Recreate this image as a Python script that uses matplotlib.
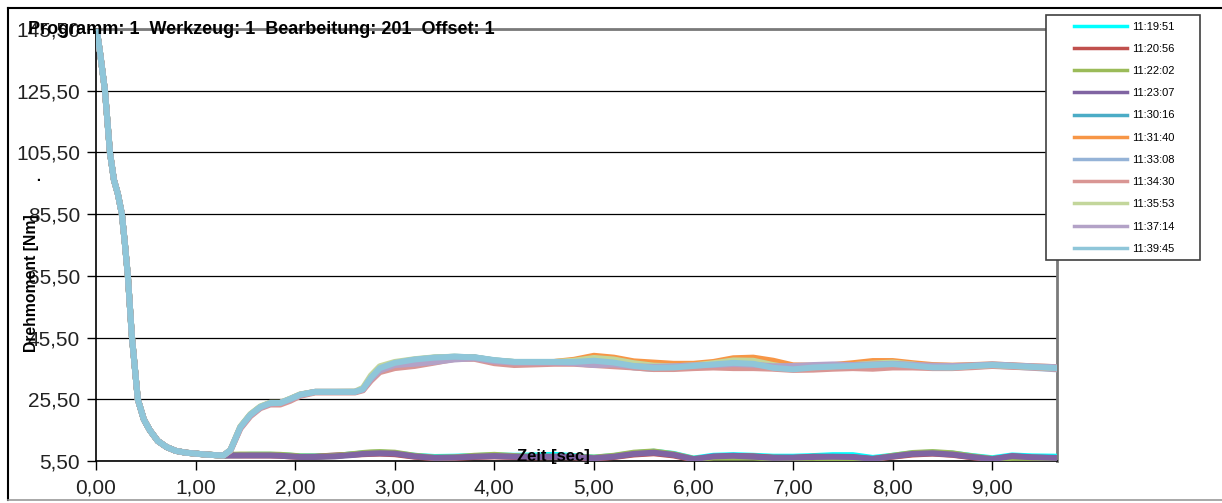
import matplotlib
matplotlib.use("Agg")
import matplotlib.pyplot as plt
from matplotlib.patches import Rectangle
from matplotlib.lines import Line2D

plt.rcParams['font.family'] = ['Liberation Sans', 'DejaVu Sans']

# gemeinsamer Anfang (alle Kurven identisch)
t_head = [0.00, 0.04, 0.09, 0.14, 0.18, 0.22, 0.26, 0.29, 0.32, 0.36, 0.42, 0.48,
          0.54, 0.62, 0.71, 0.80, 0.90, 1.00, 1.10, 1.20]
v_head = [147.0, 138.0, 125.5, 105.5, 96.6, 92.0, 85.5, 76.0, 65.5, 46.0, 25.5, 19.0,
          15.5, 12.0, 10.0, 8.8, 8.2, 7.9, 7.6, 7.4]

t_tail = [1.28, 1.35, 1.45, 1.55, 1.65, 1.75, 1.85, 1.95, 2.05,
          2.20, 2.40, 2.60, 2.68, 2.76, 2.85,
          3.00, 3.20, 3.40, 3.60, 3.80,
          4.00, 4.20, 4.40, 4.60, 4.80,
          5.00, 5.20, 5.40, 5.60, 5.80,
          6.00, 6.20, 6.40, 6.60, 6.80,
          7.00, 7.20, 7.40, 7.60, 7.80,
          8.00, 8.20, 8.40, 8.60, 8.80,
          9.00, 9.20, 9.40, 9.65]

labels = ['11:19:51', '11:20:56', '11:22:02', '11:23:07', '11:30:16', '11:31:40',
          '11:33:08', '11:34:30', '11:35:53', '11:37:14', '11:39:45']
colors = ['#00FFFF', '#C0504D', '#9BBB59', '#8064A2', '#4BACC6', '#F79646',
          '#95B3D7', '#D99694', '#C3D69B', '#B3A2C7', '#8FC6D9']

# untere Gruppe
tail_1951 = [7.3, 7.4, 7.4, 7.5, 7.5, 7.5, 7.4, 7.2, 7.0,
             7.0, 7.2, 7.7, 8.0, 8.1, 8.2,
             8.0, 7.2, 6.8, 6.9, 7.1,
             7.3, 7.2, 7.3, 7.5, 7.1,
             6.6, 7.1, 8.0, 8.5, 7.8,
             6.3, 7.2, 7.4, 7.2, 6.9,
             6.9, 7.1, 7.4, 7.4, 6.5,
             7.2, 8.0, 8.2, 7.9, 7.1,
             6.4, 7.3, 7.0, 6.9]
tail_2056 = [7.3, 7.3, 7.3, 7.3, 7.3, 7.3, 7.2, 7.0, 6.8,
             6.9, 7.3, 7.6, 7.7, 7.8, 7.9,
             7.7, 6.9, 6.4, 6.5, 6.8,
             7.0, 6.8, 6.7, 6.8, 6.7,
             6.3, 6.8, 7.6, 8.0, 7.3,
             6.0, 6.8, 7.1, 7.0, 6.6,
             6.5, 6.9, 6.8, 6.7, 6.1,
             6.9, 7.6, 7.9, 7.5, 6.7,
             6.0, 7.0, 6.6, 6.4]
tail_2202 = [7.3, 7.5, 7.6, 7.6, 7.6, 7.6, 7.5, 7.3, 7.0,
             6.9, 7.1, 7.8, 8.1, 8.3, 8.4,
             8.2, 7.2, 6.6, 6.7, 7.2,
             7.5, 7.1, 6.9, 6.9, 6.9,
             6.6, 7.2, 8.2, 8.6, 7.7,
             6.2, 6.6, 6.6, 6.6, 6.3,
             6.4, 6.5, 6.3, 6.4, 6.1,
             7.2, 8.1, 8.4, 8.0, 7.0,
             6.2, 6.5, 6.5, 6.4]
tail_2307 = [7.3, 7.3, 7.3, 7.3, 7.3, 7.3, 7.2, 7.0, 6.8,
             6.8, 7.0, 7.5, 7.8, 7.9, 8.0,
             7.9, 7.0, 6.5, 6.6, 6.9,
             7.1, 6.9, 6.8, 6.9, 6.8,
             6.4, 6.9, 7.8, 8.2, 7.5,
             6.1, 7.0, 7.2, 6.9, 6.5,
             6.6, 6.8, 6.9, 6.8, 6.2,
             7.0, 7.8, 8.0, 7.6, 6.8,
             6.1, 7.1, 6.7, 6.5]

# obere Gruppe
tail_3016 = [7.3, 9.0, 16.5, 20.5, 23.0, 24.3, 24.3, 25.6, 27.0,
             27.9, 27.9, 27.9, 28.8, 32.4, 35.5,
             37.2, 38.3, 39.0, 39.3, 39.1,
             38.1, 37.6, 37.6, 37.6, 37.7,
             38.2, 37.6, 36.5, 35.9, 35.9,
             36.3, 36.9, 37.4, 37.1, 35.9,
             35.4, 35.9, 36.3, 36.7, 37.2,
             37.1, 36.5, 35.9, 35.9, 36.4,
             36.7, 36.4, 36.0, 35.7]
tail_3140 = [7.3, 9.0, 16.5, 20.5, 23.0, 24.3, 24.3, 25.6, 27.0,
             27.9, 27.9, 27.9, 28.6, 32.0, 35.0,
             36.8, 38.0, 38.8, 39.2, 39.0,
             38.0, 37.5, 37.5, 37.6, 38.3,
             39.6, 39.0, 37.8, 37.4, 37.0,
             37.0, 37.6, 38.8, 39.0, 38.0,
             36.5, 36.4, 36.6, 37.2, 37.9,
             37.9, 37.2, 36.6, 36.4, 36.6,
             36.8, 36.5, 36.2, 35.9]
tail_3308 = [7.3, 9.0, 16.4, 20.4, 22.9, 24.2, 24.2, 25.5, 26.9,
             27.9, 27.9, 27.9, 28.7, 32.2, 35.2,
             36.9, 38.0, 38.7, 39.1, 39.0,
             38.0, 37.4, 37.4, 37.4, 37.4,
             37.4, 36.9, 35.8, 35.3, 35.5,
             36.0, 36.5, 37.0, 36.8, 35.6,
             35.3, 35.8, 36.1, 36.3, 36.5,
             36.7, 36.3, 35.8, 35.7, 36.1,
             36.4, 36.1, 35.7, 35.2]
tail_3430 = [7.3, 8.8, 16.0, 20.0, 22.6, 23.8, 23.8, 25.0, 26.6,
             27.7, 27.7, 27.7, 28.4, 31.5, 34.3,
             35.6, 36.3, 37.4, 38.6, 38.6,
             37.2, 36.6, 36.8, 37.0, 37.0,
             36.6, 36.2, 35.8, 35.3, 35.3,
             35.6, 35.8, 35.6, 35.6, 35.4,
             35.0, 35.1, 35.4, 35.6, 35.4,
             35.8, 35.8, 35.6, 35.6, 35.9,
             36.3, 36.0, 35.8, 35.4]
tail_3553 = [7.3, 9.1, 16.7, 20.7, 23.2, 24.4, 24.4, 25.7, 27.1,
             27.9, 27.9, 28.0, 29.2, 33.2, 36.2,
             37.6, 38.5, 39.1, 39.3, 39.0,
             38.1, 37.6, 37.6, 37.6, 38.0,
             38.9, 38.4, 37.2, 36.4, 36.2,
             36.5, 37.2, 38.1, 38.0, 36.6,
             35.6, 35.9, 36.2, 36.6, 37.1,
             37.4, 36.8, 36.0, 35.9, 36.3,
             36.6, 36.3, 36.0, 35.7]
tail_3714 = [7.3, 9.0, 16.3, 20.3, 22.8, 24.1, 24.3, 25.4, 26.9,
             27.9, 27.9, 27.9, 28.6, 32.0, 34.8,
             36.6, 37.0, 37.6, 38.4, 38.8,
             37.8, 37.4, 37.4, 37.4, 37.2,
             36.6, 36.8, 36.2, 36.0, 36.2,
             36.5, 36.6, 36.9, 36.7, 36.2,
             36.3, 36.6, 36.8, 36.6, 36.8,
             37.0, 36.7, 36.4, 36.3, 36.5,
             36.8, 36.5, 36.2, 35.9]
tail_3945 = [7.3, 9.0, 16.5, 20.5, 23.0, 24.3, 24.3, 25.6, 27.0,
             27.9, 27.9, 27.9, 28.8, 32.5, 35.6,
             37.3, 38.4, 39.0, 39.3, 39.1,
             38.2, 37.6, 37.6, 37.6, 37.6,
             38.0, 37.4, 36.3, 35.7, 35.8,
             36.3, 36.8, 37.3, 37.0, 35.7,
             35.2, 35.8, 36.1, 36.3, 36.6,
             36.9, 36.4, 35.8, 35.8, 36.3,
             36.6, 36.3, 36.0, 35.6]

tails = [tail_1951, tail_2056, tail_2202, tail_2307, tail_3016, tail_3140,
         tail_3308, tail_3430, tail_3553, tail_3714, tail_3945]

y_ticks = [5.5, 25.5, 45.5, 65.5, 85.5, 105.5, 125.5, 145.5]
x_ticks = [0, 1, 2, 3, 4, 5, 6, 7, 8, 9]

W, H = 1222, 503
fig = plt.figure(figsize=(W / 100, H / 100), dpi=100)
ax = fig.add_axes([96 / W, 1 - 461 / H, (1057 - 96) / W, (461 - 29) / H])

t_all = t_head + t_tail
for i, (lab, col, tail) in enumerate(zip(labels, colors, tails)):
    ax.plot(t_all, v_head + tail, color=col, lw=4.3, solid_joinstyle='round',
            solid_capstyle='round', zorder=3 + i * 0.01)

ax.set_xlim(0, 9.65)
ax.set_ylim(5.5, 145.5)
ax.set_yticks(y_ticks)
ax.set_yticklabels([('%.2f' % v).replace('.', ',') for v in y_ticks])
ax.set_xticks(x_ticks)
ax.set_xticklabels([('%.2f' % v).replace('.', ',') for v in x_ticks])
ax.tick_params(axis='both', labelsize=15, length=6.5, width=1, direction='out',
               colors='black', labelcolor='#222222')
ax.tick_params(axis='y', pad=5)
ax.tick_params(axis='x', pad=6)
ax.yaxis.grid(True, color='black', lw=0.9, zorder=1)
ax.set_axisbelow(True)
for s in ['left', 'bottom']:
    ax.spines[s].set_color('black')
    ax.spines[s].set_linewidth(1.2)
for s in ['top', 'right']:
    ax.spines[s].set_color('#7a7a7a')
    ax.spines[s].set_linewidth(2)

# Rahmen um das Diagramm
fig.add_artist(Line2D([8 / W, 8 / W], [1 - 8 / H, 1 - 500 / H], color='black', lw=1.5))
fig.add_artist(Line2D([8 / W, 1.0], [1 - 8 / H, 1 - 8 / H], color='black', lw=1.5))
fig.add_artist(Line2D([8 / W, 1.0], [1 - 500 / H, 1 - 500 / H], color='#9a9a9a', lw=1.2))

fig.text(28 / W, 1 - 30 / H, 'Programm: 1  Werkzeug: 1  Bearbeitung: 201  Offset: 1',
         fontsize=13, fontweight='bold', ha='left', va='center')
fig.text(32 / W, 1 - 283 / H, 'Drehmoment [Nm]', fontsize=11.3, fontweight='bold',
         rotation=90, ha='center', va='center')
fig.text(36 / W, 1 - 178 / H, '.', fontsize=11, fontweight='bold', rotation=90,
         ha='center', va='center')
fig.text(553 / W, 1 - 457 / H, 'Zeit [sec]', fontsize=12, fontweight='bold',
         ha='center', va='center')

# Legende
box = Rectangle((1046 / W, 1 - 260 / H), (1200 - 1046) / W, (260 - 15) / H,
                transform=fig.transFigure, facecolor='white', edgecolor='#404040',
                lw=1.2, zorder=4)
fig.add_artist(box)
handles = [Line2D([], [], color=c, lw=2.5) for c in colors]
fig.legend(handles, labels, loc='upper left', bbox_to_anchor=(1068 / W, 1 - 16 / H),
           frameon=False, fontsize=8, handlelength=4.8, handletextpad=0.5,
           labelspacing=1.1, borderpad=0.0)

fig.savefig('out.png', dpi=100)
